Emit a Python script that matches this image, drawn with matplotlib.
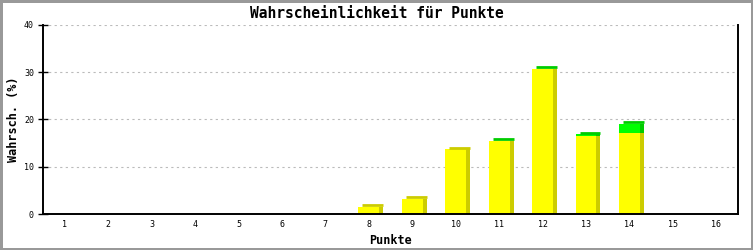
import matplotlib
matplotlib.use('Agg')
import matplotlib.pyplot as plt
from matplotlib.transforms import ScaledTranslation

# Punkte und Wahrscheinlichkeiten (%)
punkte = list(range(1, 17))
gelb = [0, 0, 0, 0, 0, 0, 0, 1.55, 3.25, 13.7, 15.4, 30.6, 16.5, 17.1, 0, 0]
gruen = [0, 0, 0, 0, 0, 0, 0, 0, 0, 0, 0.1, 0.15, 0.4, 1.95, 0, 0]

mono = 'DejaVu Sans Mono'
gelb_hell, gelb_dunkel = '#ffff00', '#cccc00'
gruen_hell, gruen_dunkel = '#00ff00', '#00cc00'
breite = 0.48

fig = plt.figure(figsize=(7.53, 2.5), dpi=100)
fig.patch.set_edgecolor('#999999')
fig.patch.set_linewidth(2.5)
ax = fig.add_axes([43 / 753, 36 / 250, 695 / 753, 189 / 250])

# 3D-Effekt: Seite und Deckel leicht versetzt
dx, dy = 4 / 100, 3 / 100
seite = ax.transData + ScaledTranslation(dx, 0, fig.dpi_scale_trans)
deckel = ax.transData + ScaledTranslation(dx, dy / 2, fig.dpi_scale_trans)

ax.bar(punkte, gelb, breite, color=gelb_dunkel, lw=0, transform=seite)
ax.bar(punkte, gruen, breite, bottom=gelb, color=gruen_dunkel, lw=0, transform=seite)

summe = [g + r for g, r in zip(gelb, gruen)]
idx = [i for i, s in enumerate(summe) if s > 0]
ax.hlines([summe[i] for i in idx],
          [punkte[i] - breite / 2 for i in idx],
          [punkte[i] + breite / 2 for i in idx],
          colors=[gruen_dunkel if gruen[i] > 0 else gelb_dunkel for i in idx],
          linewidth=2.0, capstyle='butt', transform=deckel)

ax.bar(punkte, gelb, breite, color=gelb_hell, lw=0)
ax.bar(punkte, gruen, breite, bottom=gelb, color=gruen_hell, lw=0)

ax.set_xlim(0.5, 16.5)
ax.set_ylim(0, 40)
ax.set_xticks(punkte)
ax.set_yticks([0, 10, 20, 30, 40])
ax.yaxis.grid(True, color='#bbbbbb', linestyle=(0, (2, 3)), linewidth=0.8)
ax.set_axisbelow(True)

for s in ['left', 'bottom', 'right']:
    ax.spines[s].set_linewidth(1.4)
ax.spines['top'].set_visible(False)

ax.tick_params(axis='x', length=0, pad=4, labelsize=6)
ax.tick_params(axis='y', direction='inout', length=7, width=1, pad=3, labelsize=6)
for lbl in ax.get_xticklabels() + ax.get_yticklabels():
    lbl.set_family(mono)

ax.set_xlabel('Punkte', fontfamily=mono, fontweight='bold', fontsize=8.5, labelpad=4)
ax.set_ylabel('Wahrsch. (%)', fontfamily=mono, fontweight='bold', fontsize=8.5, labelpad=3)
fig.text(0.5, 1 - 14 / 250, 'Wahrscheinlichkeit für Punkte', ha='center', va='center',
         fontfamily=mono, fontweight='bold', fontsize=10.5)

fig.savefig('out.png', dpi=100, edgecolor=fig.get_edgecolor())
